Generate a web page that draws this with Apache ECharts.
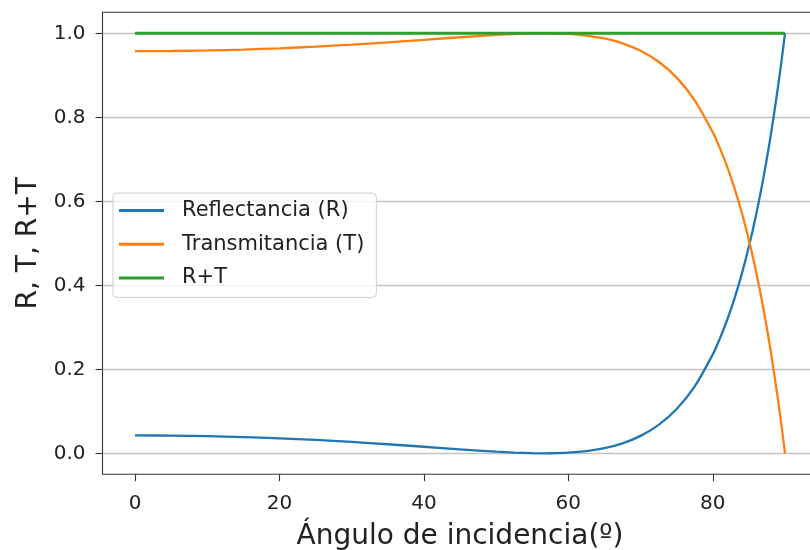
<!DOCTYPE html>
<html>
<head>
<meta charset="utf-8">
<script src="https://cdn.jsdelivr.net/npm/echarts@6/dist/echarts.min.js"></script>
<style>
  html, body { margin: 0; padding: 0; background: #fff; }
  #chart { width: 810px; height: 550px; }
</style>
</head>
<body>
<div id="chart"></div>
<script>
// Angle of incidence (degrees)
const angles = [0, 5, 10, 15, 20, 25, 30, 35, 40, 45, 50, 52.5, 55, 56.66, 57.5, 60, 62.5, 65, 67.5, 70,
  72.5, 75, 77.5, 80, 81, 82, 83, 84, 85, 86, 87, 88, 89, 89.5, 90];
// Reflectance R
const reflectance = [0.04258, 0.04215, 0.04087, 0.03872, 0.03570, 0.03181, 0.02708, 0.02159, 0.01555, 0.00936,
  0.00379, 0.00166, 0.00030, 0, 0.00009, 0.00153, 0.00530, 0.01232, 0.02384, 0.04153,
  0.06773, 0.10558, 0.15948, 0.23554, 0.27398, 0.31800, 0.36840, 0.42610, 0.49217, 0.56787,
  0.65465, 0.75421, 0.86855, 0.93197, 1];
// Transmittance T
const transmittance = [0.95742, 0.95785, 0.95913, 0.96128, 0.96430, 0.96819, 0.97292, 0.97841, 0.98445, 0.99064,
  0.99621, 0.99834, 0.99970, 1, 0.99991, 0.99847, 0.99470, 0.98768, 0.97616, 0.95847,
  0.93227, 0.89442, 0.84052, 0.76446, 0.72602, 0.68200, 0.63160, 0.57390, 0.50783, 0.43213,
  0.34535, 0.24579, 0.13145, 0.06803, 0];
// R + T
const sumRT = [1, 1, 1, 1, 1, 1, 1, 1, 1, 1, 1, 1, 1, 1, 1, 1, 1, 1, 1, 1,
  1, 1, 1, 1, 1, 1, 1, 1, 1, 1, 1, 1, 1, 1, 1];

const xTicks = [0, 20, 40, 60, 80];
const yTicks = [0, 0.2, 0.4, 0.6, 0.8, 1.0];
const seriesNames = ['Reflectancia (R)', 'Transmitancia (T)', 'R+T'];

const pairs = arr => angles.map((a, i) => [a, arr[i]]);
const FONT = 'DejaVu Sans';

const chart = echarts.init(document.getElementById('chart'), null, { renderer: 'canvas' });

function lineSeries(name, values, color, width, z) {
  return {
    name: name,
    type: 'line',
    data: pairs(values),
    symbol: 'none',
    smooth: 0.3,
    z: z,
    lineStyle: { color: color, width: width },
    itemStyle: { color: color },
    emphasis: { disabled: true },
    animation: false
  };
}

chart.setOption({
  animation: false,
  backgroundColor: '#ffffff',
  grid: {
    left: 102.5, top: 12.3, width: 715, height: 462,
    outerBoundsMode: 'none',
    show: true, borderColor: '#333', borderWidth: 1.1, backgroundColor: 'transparent',
    containLabel: false
  },
  legend: {
    orient: 'vertical',
    left: 113, top: 193,
    data: seriesNames,
    icon: 'rect',
    backgroundColor: 'rgba(255,255,255,0.8)',
    borderColor: '#d0d0d0', borderWidth: 1, borderRadius: 4,
    padding: [7, 12, 9, 6],
    itemWidth: 45, itemHeight: 3, itemGap: 12.7,
    textStyle: { fontFamily: FONT, fontSize: 21, color: '#222', lineHeight: 20, padding: [0, 0, 0, 13] },
    selectedMode: false
  },
  xAxis: {
    type: 'value',
    min: -4.5, max: 94.5,
    name: 'Ángulo de incidencia(º)',
    nameLocation: 'middle', nameGap: 48,
    nameTextStyle: { fontFamily: FONT, fontSize: 28, color: '#222' },
    axisLine: { show: false, onZero: false },
    axisTick: { show: true, length: 7, lineStyle: { color: '#333', width: 1.1 }, customValues: xTicks },
    axisLabel: { fontFamily: FONT, fontSize: 20, color: '#222', margin: 19, customValues: xTicks },
    splitLine: { show: false }
  },
  yAxis: {
    type: 'value',
    min: -0.05, max: 1.05,
    name: 'R, T, R+T',
    nameLocation: 'middle', nameGap: 59,
    nameTextStyle: { fontFamily: FONT, fontSize: 28, color: '#222' },
    axisLine: { show: false, onZero: false },
    axisTick: { show: true, length: 7, lineStyle: { color: '#333', width: 1.1 }, customValues: yTicks },
    axisLabel: {
      fontFamily: FONT, fontSize: 20, color: '#222', margin: 17, customValues: yTicks,
      formatter: v => v.toFixed(1)
    },
    splitLine: { show: true, lineStyle: { color: '#c4c4c4', width: 1.3 } }
  },
  series: [
    lineSeries(seriesNames[0], reflectance, '#1f77b4', 2.3, 3),
    lineSeries(seriesNames[1], transmittance, '#ff7f0e', 2.3, 4),
    lineSeries(seriesNames[2], sumRT, '#2ca02c', 3, 5)
  ]
});
</script>
</body>
</html>
